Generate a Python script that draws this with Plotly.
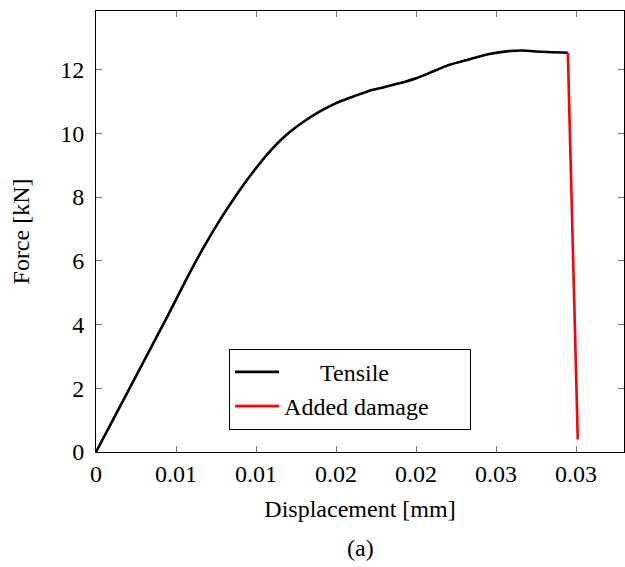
import plotly.graph_objects as go

# Data
disp_tensile = [0, 0.00213, 0.00425, 0.0058, 0.00668, 0.00772, 0.00876, 0.0098, 0.01084,
                0.01189, 0.01293, 0.01397, 0.01501, 0.01605, 0.01709, 0.01793, 0.01897,
                0.02001, 0.0211, 0.02209, 0.0233, 0.02459, 0.0258, 0.02668, 0.0275, 0.02949]
force_tensile = [0, 2.03, 4.05, 5.57, 6.38, 7.26, 8.06, 8.78, 9.42,
                 9.95, 10.35, 10.68, 10.95, 11.15, 11.34, 11.44, 11.57,
                 11.73, 11.95, 12.15, 12.32, 12.49, 12.58, 12.60, 12.57, 12.53]
disp_damage = [0.02949, 0.03011]
force_damage = [12.53, 0.39]

x_tickvals = [0, 0.005, 0.01, 0.015, 0.02, 0.025, 0.03]
x_ticktext = ["0", "0.01", "0.01", "0.02", "0.02", "0.03", "0.03"]
y_tickvals = [0, 2, 4, 6, 8, 10, 12]

FONT = "Liberation Serif"
FS = 24
NB = "\u00a0"

fig = go.Figure()
fig.add_trace(go.Scatter(x=disp_tensile, y=force_tensile, mode="lines",
                         name=NB * 6 + "Tensile",
                         line=dict(color="black", width=2.6, shape="spline", smoothing=0.8)))
fig.add_trace(go.Scatter(x=disp_damage, y=force_damage, mode="lines",
                         name="Added damage" + NB * 6,
                         line=dict(color="red", width=2.6)))

axis_common = dict(showgrid=False, zeroline=False, showline=True, linecolor="black",
                   linewidth=1, mirror="allticks", ticks="inside", ticklen=6,
                   tickcolor="#777", tickwidth=1, automargin=False,
                   tickfont=dict(family=FONT, size=FS, color="black"))

fig.update_layout(
    width=625, height=567,
    margin=dict(l=96, r=1, t=11, b=115),
    paper_bgcolor="white", plot_bgcolor="white",
    font=dict(family=FONT, size=FS, color="black"),
    xaxis=dict(range=[0, 0.033], tickvals=x_tickvals, ticktext=x_ticktext,
               title=dict(text="Displacement [mm]", standoff=14,
                          font=dict(family=FONT, size=FS)),
               **axis_common),
    yaxis=dict(range=[0, 13.84], tickvals=y_tickvals, ticklabelstandoff=6,
               title=dict(text="Force [kN]", standoff=23,
                          font=dict(family=FONT, size=FS)),
               **axis_common),
    legend=dict(x=0.252, y=0.234, xanchor="left", yanchor="top",
                bgcolor="white", bordercolor="black", borderwidth=1,
                itemwidth=44,
                font=dict(family=FONT, size=FS), tracegroupgap=0),
    showlegend=True,
    annotations=[dict(text="(a)", xref="paper", yref="paper", x=0.5, y=-0.218,
                      xanchor="center", yanchor="middle", showarrow=False,
                      font=dict(family=FONT, size=FS))],
)

fig.write_html(
    "out.html",
    config={"displayModeBar": False},
    post_script="document.body.style.margin='0';document.body.style.overflow='hidden';",
)
